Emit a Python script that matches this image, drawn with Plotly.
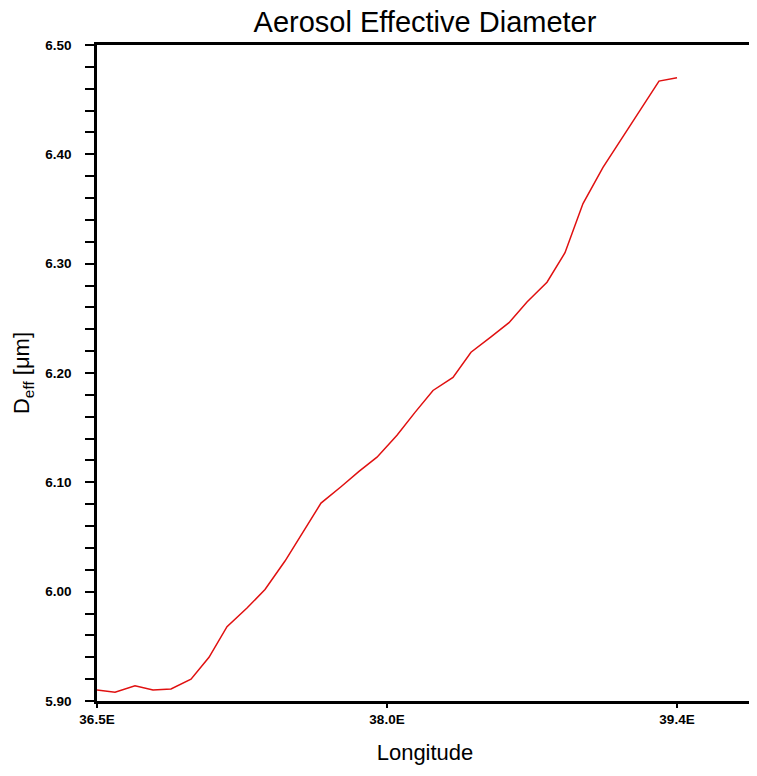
import plotly.graph_objects as go

lon = [36.50, 36.59, 36.69, 36.78, 36.87, 36.97, 37.06, 37.15, 37.25, 37.34,
       37.44, 37.53, 37.62, 37.72, 37.81, 37.90, 38.00, 38.09, 38.18, 38.28,
       38.37, 38.47, 38.56, 38.65, 38.75, 38.84, 38.93, 39.03, 39.12, 39.21,
       39.31, 39.40]
deff = [5.910, 5.908, 5.914, 5.910, 5.911, 5.920, 5.940, 5.968, 5.985, 6.002,
        6.028, 6.055, 6.081, 6.096, 6.110, 6.123, 6.143, 6.164, 6.184, 6.196,
        6.219, 6.233, 6.246, 6.265, 6.283, 6.310, 6.355, 6.388, 6.413, 6.438,
        6.467, 6.470]

x_tickvals = [36.5, 37.95, 39.4]
x_ticktext = ["36.5E", "38.0E", "39.4E"]
y_tickvals = [5.90, 6.00, 6.10, 6.20, 6.30, 6.40, 6.50]

FONT = "Liberation Sans, Arial, Helvetica, sans-serif"

fig = go.Figure()
fig.add_trace(go.Scatter(x=lon, y=deff, mode="lines",
                         line=dict(color="#e01010", width=1.5),
                         showlegend=False, hoverinfo="skip"))

fig.update_layout(
    width=757, height=776,
    margin=dict(l=89, r=12, t=37, b=83, autoexpand=False),
    paper_bgcolor="white", plot_bgcolor="white",
    font=dict(family=FONT, color="black"),
    title=dict(text="Aerosol Effective Diameter", x=417 / 757,
               xanchor="center", y=1, yanchor="top",
               automargin=False, pad=dict(t=4),
               font=dict(size=29, family=FONT, color="black")),
)
fig.update_xaxes(
    range=[36.5, 39.78], showgrid=False, zeroline=False, automargin=False,
    showline=True, linewidth=2.5, linecolor="black", mirror=True,
    tickmode="array", tickvals=x_tickvals, ticktext=x_ticktext,
    ticks="outside", ticklen=4, tickwidth=2, tickcolor="black",
    ticklabelstandoff=0,
    tickfont=dict(size=13.5, family=FONT, color="black", weight="bold"),
    title=dict(text="Longitude", font=dict(size=22, family=FONT, color="black"),
               standoff=19),
)
fig.update_yaxes(
    range=[5.90, 6.50], showgrid=False, zeroline=False, automargin=False,
    showline=True, linewidth=2.5, linecolor="black", mirror=True,
    tickmode="array", tickvals=y_tickvals, tickformat=".2f",
    ticks="outside", ticklen=4, tickwidth=2, tickcolor="black",
    ticklabelstandoff=16,
    tickfont=dict(size=13.5, family=FONT, color="black", weight="bold"),
    minor=dict(dtick=0.02, ticks="outside", ticklen=9, tickwidth=2,
               tickcolor="black", showgrid=False),
    title=dict(text="D<sub>eff</sub> [μm]",
               font=dict(size=22, family=FONT, color="black"), standoff=10),
)

fig.write_html("out.html")
